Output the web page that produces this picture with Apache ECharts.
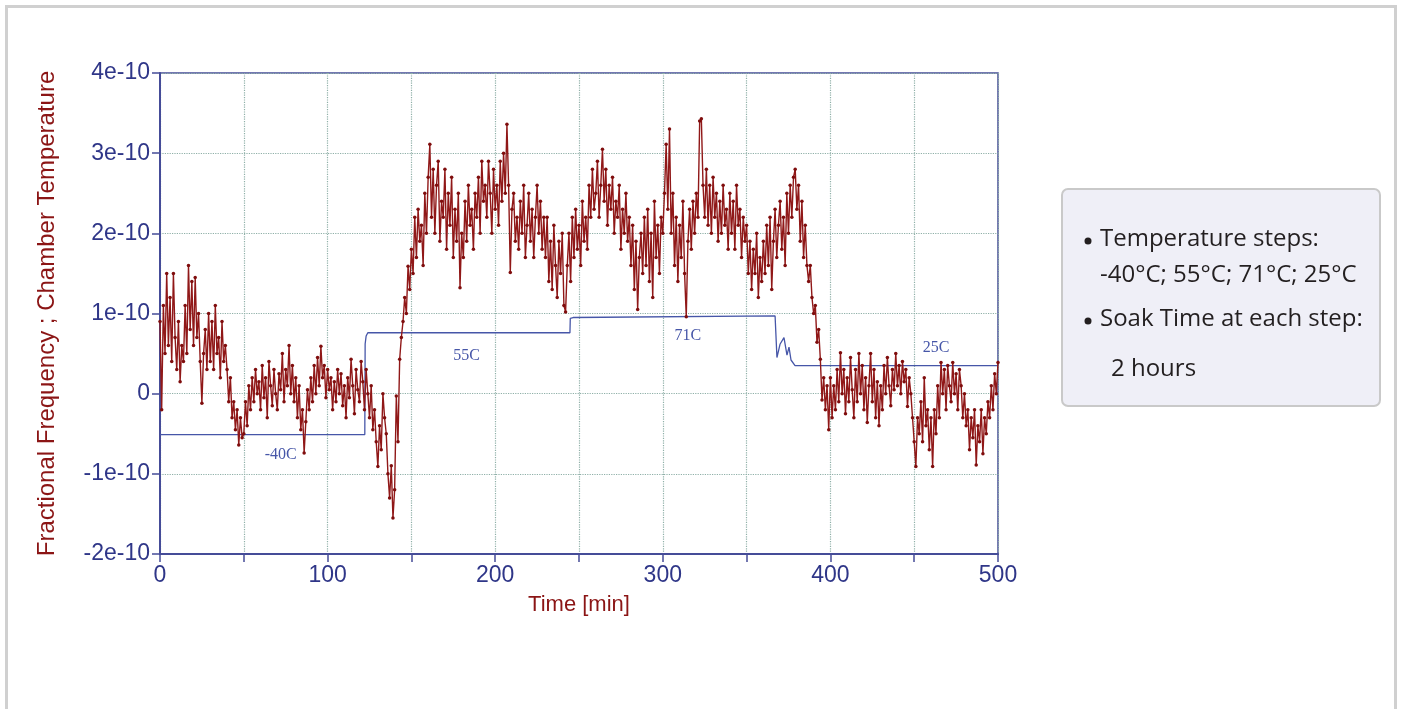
<!DOCTYPE html>
<html>
<head>
<meta charset="utf-8">
<script src="https://cdn.jsdelivr.net/npm/echarts@6/dist/echarts.min.js"></script>
<style>
  html, body { margin: 0; padding: 0; background: #fff; }
  #frame {
    position: absolute; left: 5px; top: 5px; width: 1386px; height: 800px;
    border: 3px solid #d0d0d0; border-bottom: none;
  }
  #chart { position: absolute; left: 0; top: 0; width: 1403px; height: 709px; }
</style>
</head>
<body>
<div id="frame"></div>
<div id="chart"></div>
<script>
// fractional frequency, one sample per minute (units of 1e-10)
const freqE10 = [
  0.9, -0.2, 1.1, 0.5, 1.5, 0.6, 1.2, 0.4, 1.5, 0.7,
  0.3, 0.9, 0.15, 0.6, 0.4, 1.1, 0.5, 1.6, 0.8, 1.4,
  0.6, 1.45, 0.7, 1.0, 0.4, -0.12, 0.5, 0.8, 0.3, 1.0,
  0.4, 0.9, 0.3, 1.1, 0.5, 0.7, 0.2, 0.9, 0.4, 0.6,
  0.3, -0.1, 0.2, -0.3, -0.1, -0.45, -0.2, -0.64, -0.3, -0.55,
  -0.5, -0.1, -0.4, 0.1, -0.2, 0.2, -0.1, 0.3, 0.0, 0.15,
  -0.2, 0.35, -0.05, 0.2, -0.3, 0.4, 0.1, -0.15, 0.3, 0.0,
  -0.2, 0.25, 0.05, 0.5, -0.1, 0.3, 0.1, 0.6, 0.0, 0.35,
  -0.1, 0.2, -0.3, 0.1, -0.45, -0.2, -0.74, -0.35, 0.05, -0.2,
  0.2, -0.1, 0.35, 0.0, 0.45, 0.1, 0.59, 0.2, 0.35, -0.05,
  0.3, 0.05, 0.2, -0.2, 0.15, -0.1, 0.3, 0.0, 0.25, -0.15,
  0.1, -0.3, 0.2, -0.05, 0.43, 0.1, -0.25, 0.3, 0.05, -0.1,
  0.4, 0.15, -0.2, 0.3, 0.0, -0.3, 0.1, -0.45, -0.2, -0.6,
  -0.91, -0.4, -0.7, 0.0, -0.3, -0.5, -1.0, -1.3, -0.9, -1.55,
  -1.2, -0.03, -0.6, 0.43, 0.7, 0.9, 1.2, 1.0, 1.59, 1.3,
  1.8, 1.5, 2.2, 1.7, 2.3, 1.9, 2.1, 1.6, 2.5, 2.0,
  2.7, 3.11, 2.2, 2.8, 2.0, 2.6, 2.9, 1.9, 2.4, 2.2,
  2.8, 1.8, 2.5, 2.1, 2.7, 1.7, 2.3, 1.9, 2.5, 1.32,
  2.0, 1.7, 2.4, 1.9, 2.6, 2.1, 2.3, 1.8, 2.5, 2.2,
  2.7, 2.0, 2.9, 2.4, 2.6, 2.2, 2.9, 2.5, 2.0, 2.8,
  2.3, 2.6, 2.1, 2.9, 2.4, 3.0, 2.5, 3.36, 2.6, 1.51,
  2.3, 2.5, 1.9, 2.2, 1.8, 2.4, 2.0, 2.6, 1.7, 2.1,
  2.5, 1.9, 2.3, 1.7, 2.2, 2.6, 2.0, 2.4, 1.8, 2.2,
  1.7, 2.2, 1.4, 1.9, 1.3, 2.1, 1.6, 1.2, 1.9, 1.5,
  2.0, 1.1, 1.02, 1.6, 2.0, 1.4, 2.2, 1.7, 2.3, 1.8,
  2.1, 1.6, 2.4, 1.9, 2.2, 1.8, 2.6, 2.2, 2.8, 2.3,
  2.5, 2.9, 2.2, 2.6, 3.05, 2.4, 2.8, 2.1, 2.6, 2.3,
  2.7, 2.0, 2.4, 2.2, 2.6, 1.8, 2.3, 2.0, 2.5, 1.9,
  2.2, 1.6, 2.1, 1.3, 1.9, 1.05, 1.7, 2.0, 1.5, 2.2,
  1.6, 2.3, 1.4, 2.0, 1.2, 2.4, 1.7, 2.1, 1.5, 2.2,
  2.0, 2.5, 3.11, 2.3, 3.3, 2.0, 2.5, 1.6, 2.2, 1.4,
  2.1, 1.7, 2.4, 1.5, 0.96, 1.9, 2.3, 1.8, 2.4, 2.0,
  2.5, 2.2, 3.4, 3.43, 2.6, 2.2, 2.8, 2.1, 2.6, 2.0,
  2.7, 2.2, 2.5, 1.9, 2.4, 2.0, 2.6, 2.1, 2.3, 1.8,
  2.5, 2.0, 2.4, 1.8, 2.6, 2.1, 2.3, 1.7, 2.2, 1.9,
  2.1, 1.5, 1.9, 1.3, 1.8, 1.5, 2.0, 1.2, 1.7, 1.4,
  1.9, 1.5, 2.1, 1.6, 2.2, 1.3, 1.9, 2.3, 1.7, 2.1,
  2.4, 1.8, 2.2, 1.6, 2.5, 2.0, 2.6, 2.2, 2.7, 2.8,
  2.3, 2.6, 1.9, 2.4, 1.7, 2.1, 1.6, 1.4, 1.6, 1.2,
  1.0, 1.1, 0.64, 0.8, 0.43, -0.08, 0.2, -0.2, 0.1, -0.45,
  0.2, -0.3, 0.1, -0.2, 0.3, -0.1, 0.51, 0.0, 0.3, -0.25,
  0.2, -0.1, 0.45, 0.05, -0.3, 0.3, -0.1, 0.5, 0.0, 0.35,
  -0.2, 0.2, -0.36, 0.1, 0.5, -0.1, 0.3, -0.3, 0.15, -0.4,
  0.1, -0.2, 0.35, 0.0, 0.45, 0.1, -0.15, 0.3, 0.05, 0.5,
  0.1, 0.35, 0.0, 0.4, 0.15, 0.3, -0.16, 0.2, 0.0, -0.3,
  -0.6, -0.91, -0.3, -0.5, -0.1, -0.6, 0.2, -0.4, -0.2, -0.7,
  -0.3, -0.91, -0.2, -0.5, 0.1, -0.3, 0.39, 0.0, 0.3, -0.2,
  0.35, 0.1, -0.1, 0.39, 0.0, 0.25, -0.2, 0.3, 0.1, -0.3,
  0.0, -0.4, -0.2, -0.7, -0.3, -0.55, -0.2, -0.89, -0.4, -0.6,
  -0.2, -0.75, -0.3, -0.5, -0.1, -0.3, 0.1, -0.2, 0.25, 0.0,
  0.39
]

// chamber temperature trace (same scale)
const tempTime  = [0, 122.2, 122.4, 123, 124, 244.6, 244.8, 246.5, 247, 367, 368.1, 370, 372.3, 374.1, 375.3, 376.5, 378.9, 500]
const tempLevel = [-0.51, -0.51, 0.62, 0.72, 0.76, 0.76, 0.94, 0.95, 0.97, 0.97, 0.45, 0.62, 0.7, 0.48, 0.58, 0.42, 0.35, 0.35]

const stepLabels = ['-40C', '55C', '71C', '25C']
const stepAnchor = [[72, -0.76], [183, 0.47], [315, 0.72], [463, 0.57]]

const navy = '#2f3688'
const red = '#8b1515'
const boxFont = 'Open Sans'

const freqData = freqE10.map((v, i) => [i, v])
const tempData = tempTime.map((t, i) => [t, tempLevel[i]])

const chart = echarts.init(document.getElementById('chart'))

chart.setOption({
  animation: false,
  grid: {
    left: 160, right: 405, top: 73, bottom: 155,
    show: true, borderColor: '#454c98', borderWidth: 1.5
  },
  xAxis: {
    type: 'value', min: 0, max: 500, interval: 50,
    name: 'Time [min]', nameLocation: 'middle', nameGap: 40,
    nameTextStyle: { color: red, fontSize: 22, fontFamily: 'Liberation Sans' },
    axisLine: { onZero: false, lineStyle: { color: '#454c98', width: 2 } },
    axisTick: { length: 8, lineStyle: { color: '#454c98', width: 1.5 } },
    axisLabel: {
      color: navy, fontSize: 23, fontFamily: 'Liberation Sans', margin: 10,
      formatter: v => (v % 100 === 0 ? String(v) : '')
    },
    splitLine: { lineStyle: { color: '#8fb0a8', type: 'dotted', width: 1.2 } }
  },
  yAxis: {
    type: 'value', min: -2, max: 4, interval: 1,
    name: 'Fractional Frequency ; Chamber Temperature', nameLocation: 'middle', nameGap: 101,
    nameTextStyle: { color: red, fontSize: 24, fontFamily: 'Liberation Sans' },
    axisLine: { show: true, onZero: false, lineStyle: { color: '#454c98', width: 2 } },
    axisTick: { show: true, length: 8, lineStyle: { color: '#454c98', width: 1.5 } },
    axisLabel: {
      color: navy, fontSize: 23, fontFamily: 'Liberation Sans', margin: 10,
      formatter: v => (v === 0 ? '0' : v + 'e-10')
    },
    splitLine: { lineStyle: { color: '#8fb0a8', type: 'dotted', width: 1.2 } }
  },
  series: [
    {
      name: 'temperature', type: 'line', data: tempData, symbol: 'none',
      lineStyle: { color: '#4656a8', width: 1.3 }, z: 2,
      markPoint: {
        symbol: 'circle', symbolSize: 0,
        label: { show: true, color: '#4656a8', fontSize: 16, fontFamily: 'Liberation Serif', position: 'inside' },
        data: stepLabels.map((s, i) => ({ coord: stepAnchor[i], value: s }))
      }
    },
    {
      name: 'frequency', type: 'line', data: freqData,
      symbol: 'circle', symbolSize: 3.5, showAllSymbol: true,
      itemStyle: { color: '#7f0d0d' },
      lineStyle: { color: '#901818', width: 1.4 }, z: 3
    }
  ],
  graphic: [
    {
      type: 'rect', left: 1061, top: 188,
      shape: { width: 318, height: 217, r: 6 },
      style: { fill: '#efeff7', stroke: '#c9c9c9', lineWidth: 2 }
    },
    { type: 'circle', shape: { cx: 1088, cy: 241, r: 3.5 }, style: { fill: '#231f20' } },
    { type: 'text', left: 1100, top: 227, style: { text: 'Temperature steps:', fontSize: 24, fill: '#231f20', fontFamily: boxFont } },
    { type: 'text', left: 1100, top: 263, style: { text: '-40°C; 55°C; 71°C; 25°C', fontSize: 24, fill: '#231f20', fontFamily: boxFont } },
    { type: 'circle', shape: { cx: 1088, cy: 321, r: 3.5 }, style: { fill: '#231f20' } },
    { type: 'text', left: 1100, top: 307, style: { text: 'Soak Time at each step:', fontSize: 24, fill: '#231f20', fontFamily: boxFont } },
    { type: 'text', left: 1111, top: 357, style: { text: '2 hours', fontSize: 24, fill: '#231f20', fontFamily: boxFont } }
  ]
})
</script>
</body>
</html>
